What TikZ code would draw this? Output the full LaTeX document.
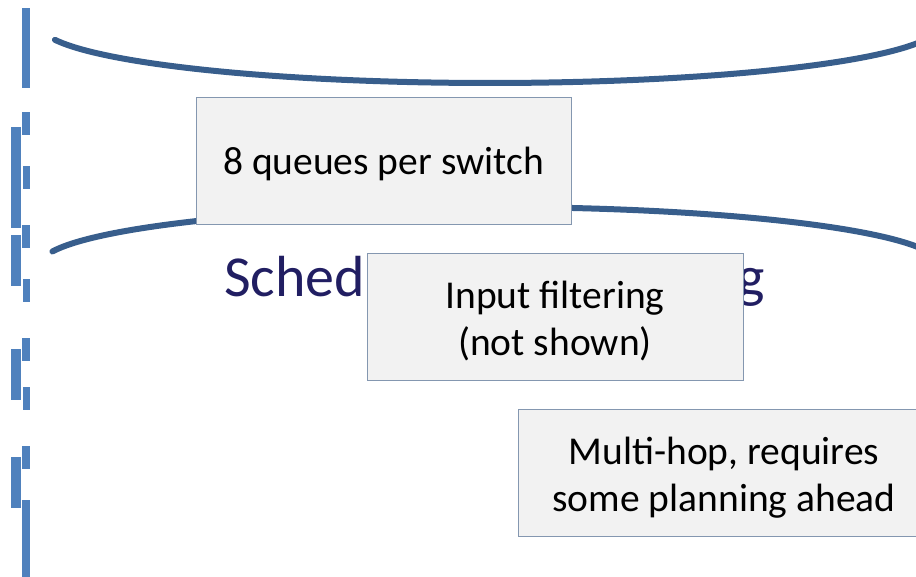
\documentclass[tikz,border=0pt]{standalone}
\usepackage{fontspec}
\setmainfont{Carlito}
\definecolor{barblue}{RGB}{79,129,189}
\definecolor{arcblue}{RGB}{56,94,140}
\definecolor{titlenavy}{RGB}{33,30,98}
\definecolor{boxfill}{RGB}{242,242,242}
\definecolor{boxline}{RGB}{132,151,176}
\tikzset{
  bar/.style={fill=barblue, draw=none},
  rim/.style={draw=arcblue, line width=6pt, line cap=round},
  note/.style={draw=boxline, line width=1pt, fill=boxfill, inner sep=0pt,
    minimum height=127pt},
  notetext/.style={text=black, align=center, inner sep=0pt,
    font=\fontsize{39.5}{47.4}\selectfont},
  heading/.style={text=titlenavy, inner sep=0pt, anchor=base west,
    font=\fontsize{58}{70}\selectfont}
}
\begin{document}
\begin{tikzpicture}[x=1pt,y=-1pt]
\useasboundingbox (0,0) rectangle (916,576);
\clip (0,0) rectangle (916,576);
% vertical bars on the left edge
\foreach \a/\b in {8/88,112/135,225/248,338/361,446/469,500/580}
  \fill[bar] (22,\a) rectangle (30,\b);
\foreach \a/\b in {166/189,279/302,387/410}
  \fill[bar] (23,\a) rectangle (30,\b);
\foreach \a/\b in {127/228,235/286,349/400,457/508}
  \fill[bar] (11,\a) rectangle (21,\b);
% the two elliptic rims
\draw[rim] plot[domain=10:165.2, samples=120] ({490+450*cos(\x)},{25+58*sin(\x)});
\draw[rim] plot[domain=10:166.5, samples=120] ({490+450*cos(\x)},{265-58*sin(\x)});
% heading
\node[heading] (title) at (224,296) {Scheduling and routing};
% notes: frame first, then its text
\node[note, minimum width=375pt] (queues) at (383.5,160.5) {};
\node[notetext] (queues text) at ([yshift=-3.5pt]queues.center) {8 queues per switch};
\node[note, minimum width=376pt] (filter) at (555,317) {};
\node[notetext] (filter text) at ([yshift=-4pt]filter.center) {Input filtering\\(not shown)};
\node[note, minimum width=412pt] (hop) at (724,472.5) {};
\node[notetext] (hop text) at ([yshift=-5pt]hop.center) {Multi-hop, requires\\some planning ahead};
\end{tikzpicture}
\end{document}
